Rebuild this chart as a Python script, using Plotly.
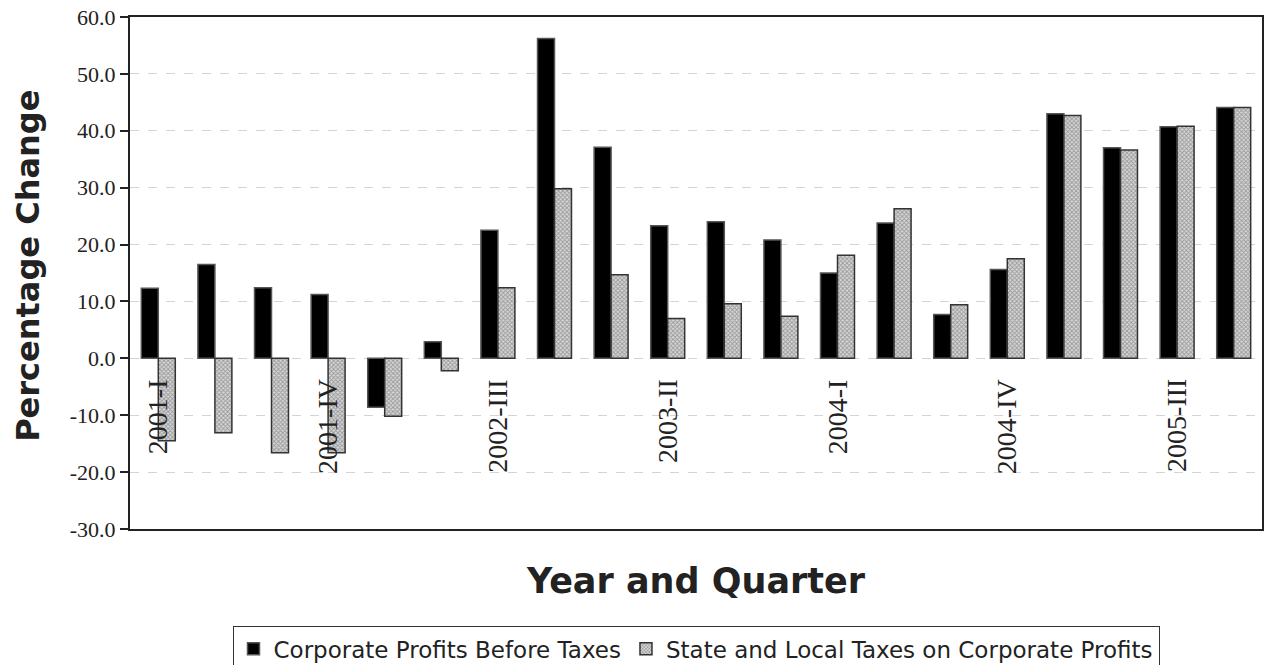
import plotly.graph_objects as go

categories = ["2001-I", "2001-II", "2001-III", "2001-IV",
              "2002-I", "2002-II", "2002-III", "2002-IV",
              "2003-I", "2003-II", "2003-III", "2003-IV",
              "2004-I", "2004-II", "2004-III", "2004-IV",
              "2005-I", "2005-II", "2005-III", "2005-IV"]
profits = [12.3, 16.5, 12.4, 11.2, -8.6, 2.9, 22.5, 56.2, 37.1, 23.3,
           24.0, 20.8, 15.0, 23.8, 7.7, 15.6, 43.0, 37.0, 40.7, 44.1]
taxes = [-14.5, -13.1, -16.6, -16.6, -10.2, -2.2, 12.4, 29.8, 14.7, 7.0,
         9.6, 7.4, 18.1, 26.3, 9.4, 17.5, 42.7, 36.6, 40.8, 44.1]
label_step = 3
y_ticks = [-30, -20, -10, 0, 10, 20, 30, 40, 50, 60]
y_tick_text = [f"{v:.1f}" for v in y_ticks]

fig = go.Figure()
fig.add_trace(go.Bar(
    x=categories, y=profits, name="Corporate Profits Before Taxes",
    marker=dict(color="#000000", line=dict(color="#555555", width=1.5)),
))
fig.add_trace(go.Bar(
    x=categories, y=taxes, name="State and Local Taxes on Corporate Profits",
    marker=dict(color="#b0b0b0", line=dict(color="#333333", width=1.5),
                pattern=dict(shape="x", size=3, solidity=0.5,
                             fgcolor="#5a5a5a", bgcolor="#d8d8d8")),
))

serif = "Liberation Serif, Times New Roman, serif"
for i in range(0, len(categories), label_step):
    fig.add_annotation(
        x=categories[i], y=0, xref="x", yref="y",
        text=categories[i], showarrow=False, textangle=-90,
        xanchor="center", yanchor="top", yshift=-20, borderpad=0,
        font=dict(family=serif, size=28, color="#222222"),
    )

fig.add_annotation(
    x=-0.0901, y=0.514, xref="paper", yref="paper",
    text="<b>Percentage Change</b>", showarrow=False, textangle=-90,
    xanchor="center", yanchor="middle",
    font=dict(family="DejaVu Sans, sans-serif", size=32, color="#222222"),
)

n = len(categories)
fig.update_layout(
    width=1264, height=665,
    margin=dict(l=130, r=2, t=17, b=136, autoexpand=False),
    paper_bgcolor="white", plot_bgcolor="white",
    barmode="group", bargap=0.4, bargroupgap=0.0,
    showlegend=True,
    legend=dict(
        orientation="h", x=0.5, xanchor="center", y=-0.19, yanchor="top",
        font=dict(family="DejaVu Sans, sans-serif", size=23, color="#222222"),
        bordercolor="#333333", borderwidth=1, bgcolor="white",
        itemwidth=30, tracegroupgap=0,
    ),
    xaxis=dict(
        type="category", categoryorder="array", categoryarray=categories,
        range=[-0.5, n - 0.5],
        showticklabels=False, ticks="", showgrid=False,
        showline=True, linecolor="#222222", linewidth=2, mirror=True,
        title=dict(text="<b>Year and Quarter</b>", standoff=38,
                   font=dict(family="DejaVu Sans, sans-serif", size=35, color="#222222")),
        automargin=False,
    ),
    xaxis2=dict(
        overlaying="x", anchor="free", position=(0 - y_ticks[0]) / (y_ticks[-1] - y_ticks[0]),
        range=[-0.5, n - 0.5], tickmode="array",
        tickvals=[i + 0.5 for i in range(n - 1)],
        ticks="outside", ticklen=7, tickwidth=1.5, tickcolor="#333333",
        showticklabels=False, showgrid=False,
        showline=True, linecolor="#333333", linewidth=2, zeroline=False,
    ),
    yaxis=dict(
        range=[y_ticks[0], y_ticks[-1]], tickmode="array", tickvals=y_ticks,
        ticktext=y_tick_text, ticks="outside", ticklen=8, tickwidth=1.5, tickcolor="#222222",
        tickfont=dict(family=serif, size=22, color="#222222"),
        showgrid=True, gridcolor="#d4d4d4", gridwidth=1, griddash="dash",
        showline=True, linecolor="#222222", linewidth=2, mirror=True,
        zeroline=False,
        automargin=False,
    ),
)

fig.write_html("out.html")
